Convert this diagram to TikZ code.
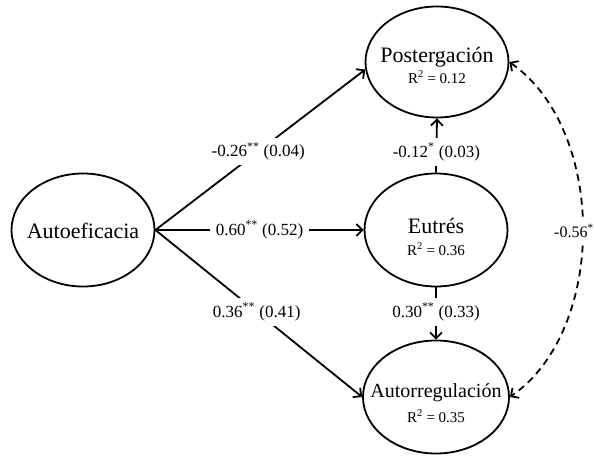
\documentclass[tikz,border=0pt]{standalone}
\usepackage{fontspec}
\setmainfont{Liberation Serif}
\usetikzlibrary{shapes.geometric,arrows.meta}
\begin{document}
\begin{tikzpicture}[x=1pt,y=-1pt,
  ell/.style={draw,ellipse,line width=1.8pt,inner sep=0pt,minimum width=143pt,minimum height=113pt},
  nm/.style={font=\fontsize{22}{24}\selectfont,anchor=base,inner sep=0pt},
  rsq/.style={font=\fontsize{15}{17}\selectfont,anchor=base,inner sep=0pt},
  lab/.style={font=\fontsize{17}{19}\selectfont,fill=white,inner xsep=6pt,inner ysep=5pt},
  tip/.style={Straight Barb[length=6pt,width=12pt,line width=1.8pt]},
  conn/.style={line width=1.8pt,-{Straight Barb[length=6pt,width=12pt,line width=1.8pt]}},
  cor/.style={line width=1.8pt,{Straight Barb[length=6pt,width=12pt,line width=1.8pt]}-{Straight Barb[length=6pt,width=12pt,line width=1.8pt]},dash pattern=on 7pt off 5pt}
]
\useasboundingbox (0,0) rectangle (594,455);
% ellipses
\node[ell] (A) at (83,230) {};
\node[nm] (At) at (83,238) {Autoeficacia};
\node[ell,minimum height=111pt] (P) at (437,62) {};
\node[nm] (Pt) at (437,62) {Postergación};
\node[rsq] (Pr) at (437,83) {R\textsuperscript{2} = 0.12};
\node[ell] (E) at (436,230) {};
\node[nm] (Et) at (436,233) {Eutrés};
\node[rsq] (Er) at (436,255) {R\textsuperscript{2} = 0.36};
\node[ell,minimum width=146pt] (R) at (436,397) {};
\node[nm,font=\fontsize{20}{22}\selectfont] (Rt) at (436,397) {Autorregulación};
\node[rsq] (Rr) at (436,422) {R\textsuperscript{2} = 0.35};
% paths
\draw[conn] (A.east) -- node[lab,pos=0.49] (l1) {-0.26\textsuperscript{**} (0.04)} (P.186);
\draw[conn] (A.east) -- node[lab,pos=0.5] (l2) {0.60\textsuperscript{**} (0.52)} (E.west);
\draw[conn] (A.east) -- node[lab,pos=0.49] (l3) {0.36\textsuperscript{**} (0.41)} (R.west);
\draw[conn] (E.north) -- node[lab,pos=0.38] (l4) {-0.12\textsuperscript{*} (0.03)} (P.south);
\draw[conn] (E.south) -- node[lab,pos=0.47] (l5) {0.30\textsuperscript{**} (0.33)} (R.north);
\draw[cor] (P.east) .. controls (607,130) and (607,330) .. (R.east);
\node[lab,font=\fontsize{16}{18}\selectfont,anchor=west,inner xsep=1pt] (l6) at (553,231) {-0.56\textsuperscript{*}};
\end{tikzpicture}
\end{document}
